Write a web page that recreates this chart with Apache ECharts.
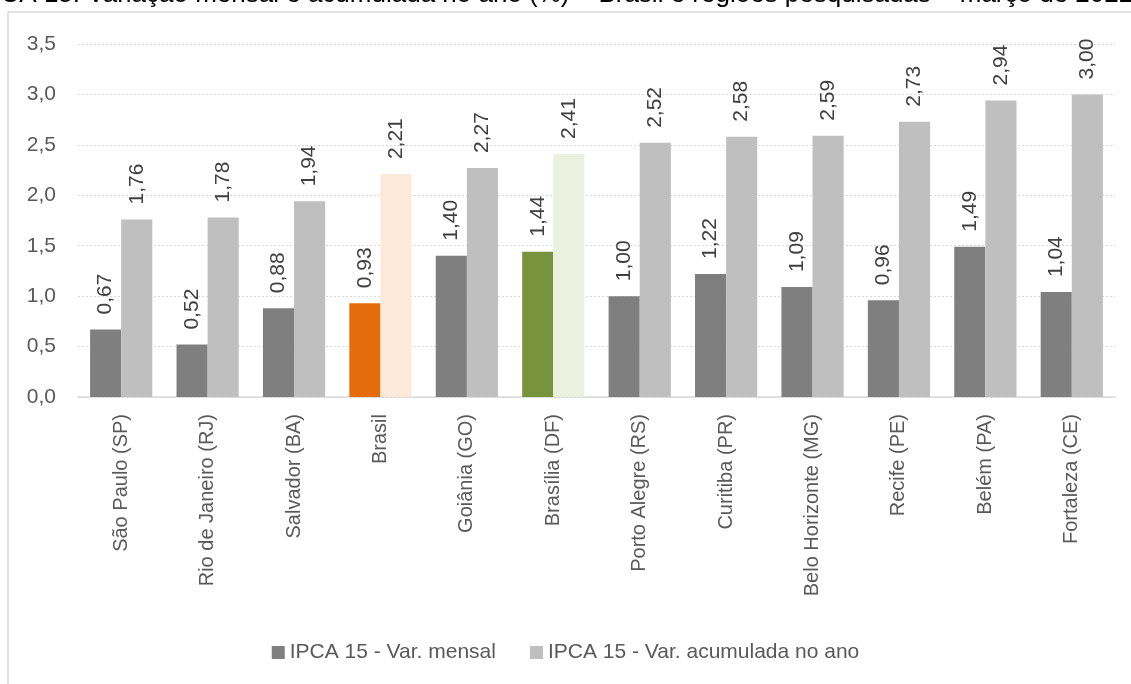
<!DOCTYPE html>
<html>
<head>
<meta charset="utf-8">
<script src="https://cdn.jsdelivr.net/npm/echarts@6/dist/echarts.min.js"></script>
<style>
html,body{margin:0;padding:0;background:#fff;}
#ipcaBar{width:1131px;height:684px;}
</style>
</head>
<body>
<div id="ipcaBar"></div>
<script>
var categorias = ['São Paulo (SP)','Rio de Janeiro (RJ)','Salvador (BA)','Brasil','Goiânia (GO)','Brasília (DF)','Porto Alegre (RS)','Curitiba (PR)','Belo Horizonte (MG)','Recife (PE)','Belém (PA)','Fortaleza (CE)']
var varMensal = [0.67,0.52,0.88,0.93,1.40,1.44,1.00,1.22,1.09,0.96,1.49,1.04]
var varAcumulada = [1.76,1.78,1.94,2.21,2.27,2.41,2.52,2.58,2.59,2.73,2.94,3.00]
var yTicks = ['0,0','0,5','1,0','1,5','2,0','2,5','3,0','3,5']

var fonte = 'Liberation Sans, Arial, sans-serif'
// cores especiais para Brasil e Brasília
var destaqueMensal = {3:'#e46c0a',5:'#77933c'}
var destaqueAcum = {3:'#fde9d9',5:'#ebf1de'}

function montaDados(vals, destaque){
	return vals.map(function(v,i){
		var item = {value:v}
		if(destaque[i]) item.itemStyle = {color:destaque[i]}
		return item
	})
}
function fmt(p){ return p.value.toFixed(2).replace('.',',') }

var ipcaBar = echarts.init(document.getElementById('ipcaBar'))
var option = {
	animation:false,
	color:['#7f7f7f','#bfbfbf'],
	textStyle:{fontFamily:fonte},
	graphic:[
		{
			type:'rect',
			shape:{x:8,y:12,width:1140,height:700},
			style:{fill:'none',stroke:'#d9d9d9',lineWidth:1.5},
			silent:true
		},
		{
			type:'text',
			x:-24, y:8,
			style:{
				text:'IPCA 15: Variação mensal e acumulada no ano (%) – Brasil e regiões pesquisadas – março de 2022',
				font:'26px ' + fonte,
				fill:'#000',
				verticalAlign:'bottom'
			}
		}
	],
	legend:{
		bottom:16,
		left:'center',
		icon:'rect',
		itemWidth:13,
		itemHeight:13,
		itemGap:34,
		textStyle:{color:'#595959',fontSize:21,fontFamily:fonte},
		data:['IPCA 15 - Var. mensal','IPCA 15 - Var. acumulada no ano']
	},
	grid:{left:78,right:16,top:44,bottom:287,containLabel:false},
	xAxis:{
		type:'category',
		data:categorias,
		axisTick:{show:false},
		axisLine:{lineStyle:{color:'#d9d9d9',width:1.5}},
		axisLabel:{rotate:90,color:'#595959',fontSize:20,margin:17,interval:0}
	},
	yAxis:{
		type:'value',
		min:0, max:3.5, interval:0.5,
		axisLine:{show:false},
		axisTick:{show:false},
		splitLine:{lineStyle:{color:'#d9d9d9',type:[2,2]}},
		axisLabel:{
			color:'#595959',fontSize:21,margin:22,
			formatter:function(v){ return yTicks[Math.round(v/0.5)] }
		}
	},
	series:[
		{
			name:'IPCA 15 - Var. mensal',
			type:'bar',
			barGap:'0%',
			barCategoryGap:'28%',
			data:montaDados(varMensal,destaqueMensal),
			label:{show:true,position:'top',rotate:90,align:'left',verticalAlign:'middle',distance:15,
				color:'#404040',fontSize:21,formatter:fmt}
		},
		{
			name:'IPCA 15 - Var. acumulada no ano',
			type:'bar',
			barGap:'0%',
			barCategoryGap:'28%',
			data:montaDados(varAcumulada,destaqueAcum),
			label:{show:true,position:'top',rotate:90,align:'left',verticalAlign:'middle',distance:15,
				color:'#404040',fontSize:21,formatter:fmt}
		}
	]
}
ipcaBar.setOption(option)
</script>
</body>
</html>
